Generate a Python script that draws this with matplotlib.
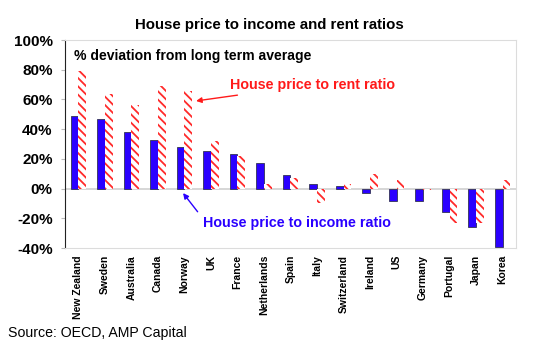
import matplotlib.pyplot as plt
import numpy as np

countries = ["New Zealand", "Sweden", "Australia", "Canada", "Norway", "UK",
             "France", "Netherlands", "Spain", "Italy", "Switzerland",
             "Ireland", "US", "Germany", "Portugal", "Japan", "Korea"]
price_income = [49, 47, 38, 33, 28, 25, 23, 17, 9, 3, 2, -3, -8, -8, -16, -26, -39]
price_rent = [79, 64, 56, 69, 66, 32, 22, 3, 7, -10, 3, 10, 6, -1, -23, -23, 6]

plt.rcParams['font.family'] = ['Liberation Sans', 'DejaVu Sans']
plt.rcParams['hatch.linewidth'] = 1.3

fig = plt.figure(figsize=(5.33, 3.45), dpi=100)
ax = fig.add_axes([0.122, 0.281, 0.846, 0.603])

x = np.arange(len(countries))
w = 0.29
ax.bar(x - w / 2, price_income, w, color='#2a00ff', edgecolor='#333355',
       linewidth=0.6, zorder=3)
ax.bar(x + w / 2, price_rent, w, color='white', edgecolor='#ff2a2a',
       hatch='\\\\\\\\', linewidth=0, zorder=3)

ax.axhline(0, color='#d0d0d0', lw=1.2, zorder=2)
ax.set_xlim(-0.5, len(countries) - 0.5)
ax.set_ylim(-40, 100)
ax.set_yticks(range(-40, 101, 20))
ax.set_yticklabels([f"{v}%" for v in range(-40, 101, 20)],
                   fontsize=11, fontweight='bold')
ax.tick_params(axis='y', direction='out', length=3, color='#bbbbbb', pad=6)
ax.set_xticks(x)
ax.set_xticklabels(countries, rotation=90, fontsize=7.5, fontweight='bold',
                   va='top')
ax.tick_params(axis='x', length=0, pad=5)

for side in ['top', 'right', 'bottom']:
    ax.spines[side].set_color('#dcdcdc')
ax.spines['left'].set_color('#222222')

fig.text(0.505, 0.928, "House price to income and rent ratios",
         ha='center', va='center', fontsize=10.8, fontweight='bold')
ax.text(0.02, 0.955, "% deviation from long term average", transform=ax.transAxes,
        ha='left', va='top', fontsize=10.1, fontweight='bold')
ax.annotate("House price to rent ratio", xy=(4.44, 59),
            xytext=(5.73, 70), color='#ff1a1a', fontsize=10.3,
            fontweight='bold', va='center',
            arrowprops=dict(arrowstyle='-|>', color='#ff1a1a', lw=1,
                            mutation_scale=8, shrinkA=4, shrinkB=0))
ax.annotate("House price to income ratio", xy=(3.95, -3),
            xytext=(4.7, -23), color='#2a00ff', fontsize=10.3,
            fontweight='bold', va='center',
            arrowprops=dict(arrowstyle='-|>', color='#2a00ff', lw=1,
                            mutation_scale=8, shrinkA=3, shrinkB=0,
                            relpos=(0, 0.8)))

fig.text(0.015, 0.035, "Source: OECD, AMP Capital", fontsize=10.2, va='center')

fig.savefig('out.png', dpi=100)
